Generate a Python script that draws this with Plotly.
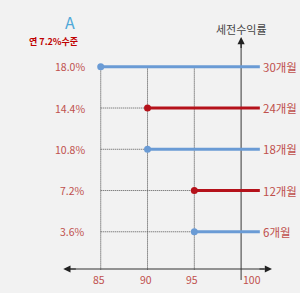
import plotly.graph_objects as go

# Data
periods = ["30개월", "24개월", "18개월", "12개월", "6개월"]
rates = [18.0, 14.4, 10.8, 7.2, 3.6]
starts = [85, 90, 90, 95, 95]
colors = ["#6a9bd5", "#b5121b", "#6a9bd5", "#b5121b", "#6a9bd5"]
x_ticks = [85, 90, 95, 100]
y_tick_labels = ["18.0%", "14.4%", "10.8%", "7.2%", "3.6%"]
line_end = 102.0

FONT = "Noto Sans CJK KR"
LABEL_RED = "#c0504d"

fig = go.Figure()

# dotted guides
for xv in [85, 90, 95]:
    fig.add_trace(go.Scatter(x=[xv, xv], y=[0.3, 18.0], mode="lines",
                             line=dict(color="#444444", width=1, dash="1px,1px"),
                             hoverinfo="skip", showlegend=False))
for r, s in zip(rates, starts):
    if s > 85:
        fig.add_trace(go.Scatter(x=[85, s], y=[r, r], mode="lines",
                                 line=dict(color="#555555", width=1, dash="1px,1px"),
                                 hoverinfo="skip", showlegend=False))

# axes lines
fig.add_trace(go.Scatter(x=[100, 100], y=[-0.6, 20.0], mode="lines",
                         line=dict(color="#555555", width=1.2),
                         hoverinfo="skip", showlegend=False))
fig.add_trace(go.Scatter(x=[81.5, 102.5], y=[0.35, 0.35], mode="lines",
                         line=dict(color="#333333", width=1.2),
                         hoverinfo="skip", showlegend=False))
# arrowheads
fig.add_annotation(x=100, y=20.6, ax=100, ay=19.5, xref="x", yref="y", axref="x", ayref="y",
                   showarrow=True, arrowhead=2, arrowsize=1.2, arrowwidth=1.2,
                   arrowcolor="#222222", text="")
fig.add_annotation(x=81.0, y=0.35, ax=82.5, ay=0.35, xref="x", yref="y", axref="x", ayref="y",
                   showarrow=True, arrowhead=2, arrowsize=1.2, arrowwidth=1.2,
                   arrowcolor="#222222", text="")
fig.add_annotation(x=103.3, y=0.35, ax=101.8, ay=0.35, xref="x", yref="y", axref="x", ayref="y",
                   showarrow=True, arrowhead=2, arrowsize=1.2, arrowwidth=1.2,
                   arrowcolor="#222222", text="")

# series
for p, r, s, c in zip(periods, rates, starts, colors):
    fig.add_trace(go.Scatter(x=[s, line_end], y=[r, r], mode="lines",
                             line=dict(color=c, width=3),
                             hoverinfo="skip", showlegend=False))
    fig.add_trace(go.Scatter(x=[s], y=[r], mode="markers",
                             marker=dict(color=c, size=7),
                             hoverinfo="skip", showlegend=False))
    fig.add_annotation(x=line_end, y=r, text=p, showarrow=False, xanchor="left",
                       xshift=1, font=dict(family=FONT, size=11.5, color=LABEL_RED))

# y tick labels
for lab, r in zip(y_tick_labels, rates):
    fig.add_annotation(x=83.5, y=r, text=lab, showarrow=False, xanchor="right",
                       font=dict(family=FONT, size=10.5, color=LABEL_RED))
# x tick labels
for xv in x_ticks:
    fig.add_annotation(x=xv, y=-0.6, text=str(xv), showarrow=False,
                       xshift=(11 if xv == 100 else -2),
                       font=dict(family=FONT, size=10.5, color=LABEL_RED))

# titles
fig.add_annotation(x=100, y=21.3, text="세전수익률", showarrow=False,
                   font=dict(family=FONT, size=11, color="#444444"))
fig.add_annotation(x=81.7, y=21.9, text="A", showarrow=False,
                   font=dict(family=FONT, size=16, color="#4fa8d8"))
fig.add_annotation(x=80.0, y=20.2, text="<b>연 7.2%수준</b>", showarrow=False,
                   font=dict(family=FONT, size=9, color="#c00000"))

fig.update_layout(
    width=300, height=293,
    margin=dict(l=0, r=0, t=0, b=0),
    paper_bgcolor="#f2f2f2", plot_bgcolor="#f2f2f2",
    xaxis=dict(range=[74.24, 106.29], visible=False, fixedrange=True),
    yaxis=dict(range=[-1.745, 23.83], visible=False, fixedrange=True),
    showlegend=False,
)

fig.write_html("out.html", config={"staticPlot": True},
               post_script="document.body.style.margin='0';document.body.style.background='#f2f2f2';document.body.style.overflow='hidden';")
